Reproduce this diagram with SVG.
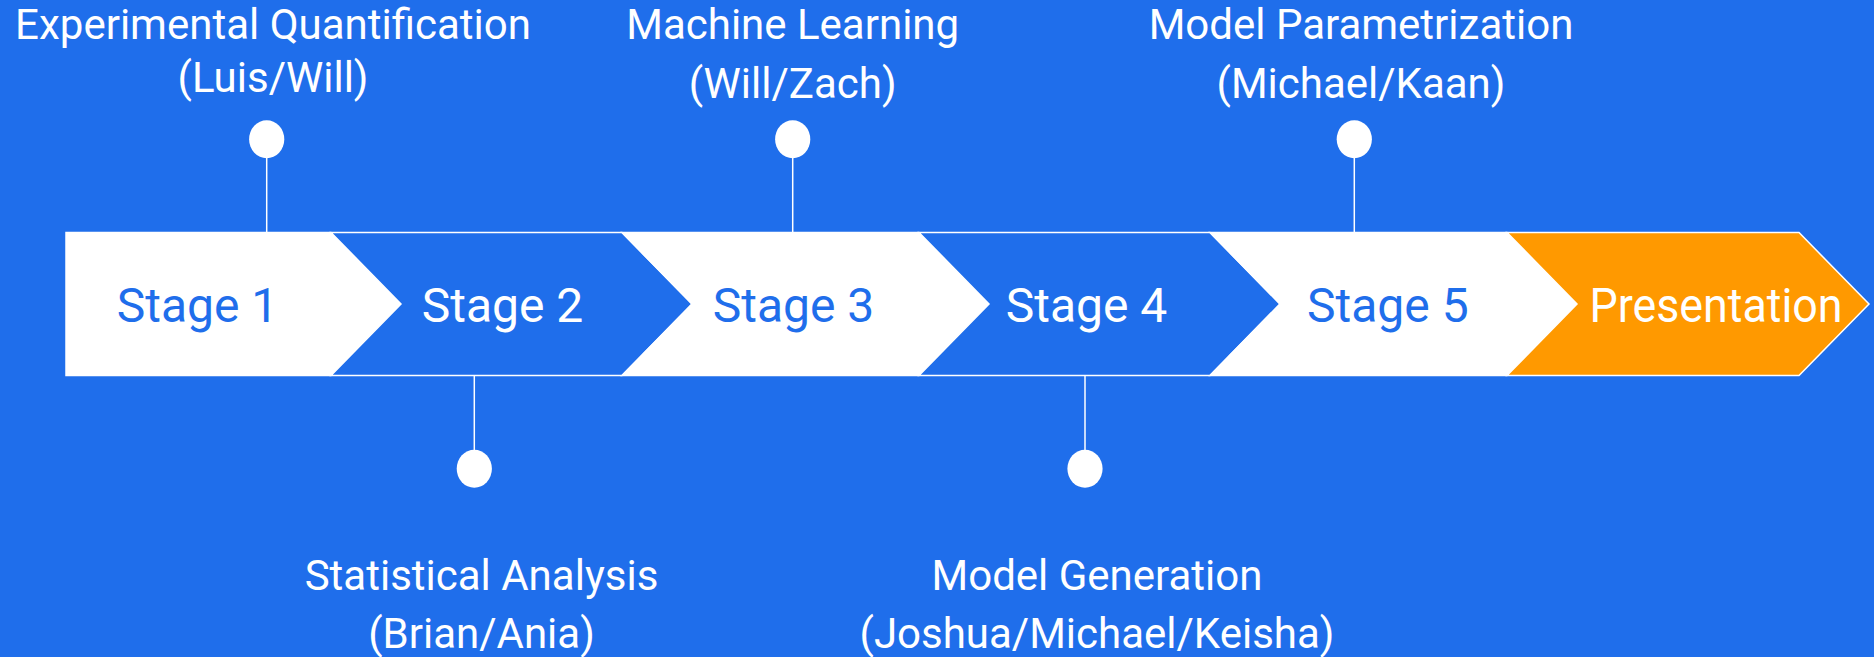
<svg xmlns="http://www.w3.org/2000/svg" width="1874" height="657" viewBox="0 0 1874 657">
<style>
.bg{fill:#1F6EEB}
.chev{stroke:#FFFFFF;stroke-width:1.5;stroke-linejoin:miter}
.w{fill:#FFFFFF}
.b{fill:#1F6EEB}
.o{fill:#FF9900}
.stage{font-family:Roboto,"Liberation Sans",sans-serif;font-size:48px}
.lbl{font-family:Roboto,"Liberation Sans",sans-serif;font-size:42px;fill:#FFFFFF;text-anchor:middle}
.conn line{stroke:#FFFFFF;stroke-width:1.5}
.dot{fill:#FFFFFF}
</style>
<rect class="bg" x="0" y="0" width="1874" height="657"/>
<g id="connectors" class="conn">
<line x1="266.7" y1="156" x2="266.7" y2="232.5"/>
<line x1="792.7" y1="156" x2="792.7" y2="232.5"/>
<line x1="1354.3" y1="156" x2="1354.3" y2="232.5"/>
<line x1="474.3" y1="375.5" x2="474.3" y2="452"/>
<line x1="1085" y1="375.5" x2="1085" y2="452"/>
</g>
<g id="stage1">
<path class="chev w" d="M66,232.5 H331 L401,304 L331,375.5 H66 Z"/>
<text class="stage b" x="116.7" y="321.5">Stage 1</text>
</g>
<g id="stage2">
<path class="chev b" d="M331,232.5 H622 L692,304 L622,375.5 H331 L401,304 Z"/>
<text class="stage w" x="421.7" y="321.5">Stage 2</text>
</g>
<g id="stage3">
<path class="chev w" d="M622,232.5 H919 L989,304 L919,375.5 H622 L692,304 Z"/>
<text class="stage b" x="712.7" y="321.5">Stage 3</text>
</g>
<g id="stage4">
<path class="chev b" d="M919,232.5 H1210 L1280,304 L1210,375.5 H919 L989,304 Z"/>
<text class="stage w" x="1005.7" y="321.5">Stage 4</text>
</g>
<g id="stage5">
<path class="chev w" d="M1210,232.5 H1507 L1577,304 L1507,375.5 H1210 L1280,304 Z"/>
<text class="stage b" x="1307" y="321.5">Stage 5</text>
</g>
<g id="presentation">
<path class="chev o" d="M1507,232.5 H1799 L1869,304 L1799,375.5 H1507 L1577,304 Z"/>
<text class="stage w" x="1589.5" y="321.5" textLength="253" lengthAdjust="spacingAndGlyphs">Presentation</text>
</g>
<g id="label1">
<ellipse class="dot" cx="266.7" cy="139.3" rx="17.6" ry="19"/>
<text class="lbl" x="273" y="39">Experimental Quantification</text>
<text class="lbl" x="273" y="92">(Luis/Will)</text>
</g>
<g id="label2">
<ellipse class="dot" cx="474.3" cy="468.7" rx="17.6" ry="19"/>
<text class="lbl" x="481.5" y="590">Statistical Analysis</text>
<text class="lbl" x="481.5" y="648">(Brian/Ania)</text>
</g>
<g id="label3">
<ellipse class="dot" cx="792.7" cy="139.3" rx="17.6" ry="19"/>
<text class="lbl" x="792.7" y="39">Machine Learning</text>
<text class="lbl" x="792.7" y="98">(Will/Zach)</text>
</g>
<g id="label4">
<ellipse class="dot" cx="1085" cy="468.7" rx="17.6" ry="19"/>
<text class="lbl" x="1097" y="590">Model Generation</text>
<text class="lbl" x="1097" y="648">(Joshua/Michael/Keisha)</text>
</g>
<g id="label5">
<ellipse class="dot" cx="1354.3" cy="139.3" rx="17.6" ry="19"/>
<text class="lbl" x="1361" y="39">Model Parametrization</text>
<text class="lbl" x="1361" y="98">(Michael/Kaan)</text>
</g>
</svg>
